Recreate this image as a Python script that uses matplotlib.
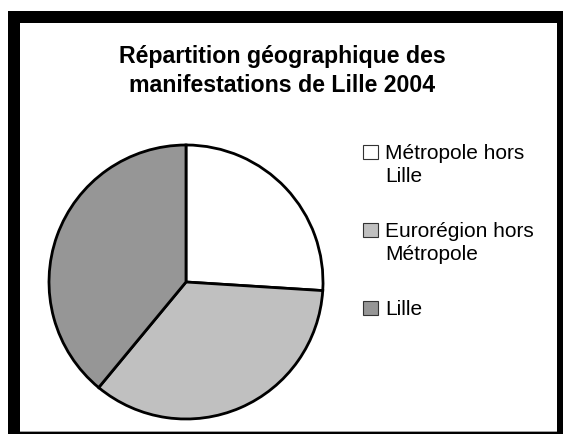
import matplotlib.pyplot as plt
from matplotlib.patches import Rectangle

# share of events by zone
zones = ['Métropole hors\nLille', 'Eurorégion hors\nMétropole', 'Lille']
parts = [26, 35, 39]
colours = ['#ffffff', '#c0c0c0', '#969696']

W, H = 563, 434
plt.rcParams['font.family'] = ['Liberation Sans', 'DejaVu Sans']
fig = plt.figure(figsize=(W / 100, H / 100), dpi=100)

# thick black frame, running off the right and bottom edge
fig.patches.append(Rectangle((8, 0), W, H - 11, facecolor='black',
                             edgecolor='none', transform=None, zorder=-10))
fig.patches.append(Rectangle((20, 3), 537, H - 23 - 3, facecolor='white',
                             edgecolor='none', transform=None, zorder=-9))
fig.patches.append(Rectangle((20, 2), 537, 1.2, facecolor='#a0a0a0',
                             edgecolor='none', transform=None, zorder=-9))

cx, cy, r = 186, 282, 137
ax = fig.add_axes([(cx - r) / W, (H - cy - r) / H, 2 * r / W, 2 * r / H])
ax.set_zorder(1)
wedges, _ = ax.pie(parts, colors=colours, startangle=90, counterclock=False,
                   wedgeprops=dict(edgecolor='black', linewidth=2))
ax.set_xlim(-1, 1)
ax.set_ylim(-1, 1)
ax.set_aspect('equal')
ax.axis('off')

fig.text(282 / W, 1 - 71 / H, 'Répartition géographique des\nmanifestations de Lille 2004',
         ha='center', va='center', fontsize=16.7, fontweight='bold',
         linespacing=1.3)

# legend drawn by hand so the square sits on the first text line
for i, (name, col) in enumerate(zip(zones, colours)):
    top = 145 + i * 78
    fig.patches.append(Rectangle((363, H - top - 14), 15, 14, facecolor=col,
                                 edgecolor='#333333', linewidth=0.8,
                                 transform=None, zorder=2))
    fig.text(385 / W, 1 - (top - 1) / H, name, ha='left', va='top',
             fontsize=15, linespacing=1.25)

fig.savefig('out.png', dpi=100, facecolor='white')
